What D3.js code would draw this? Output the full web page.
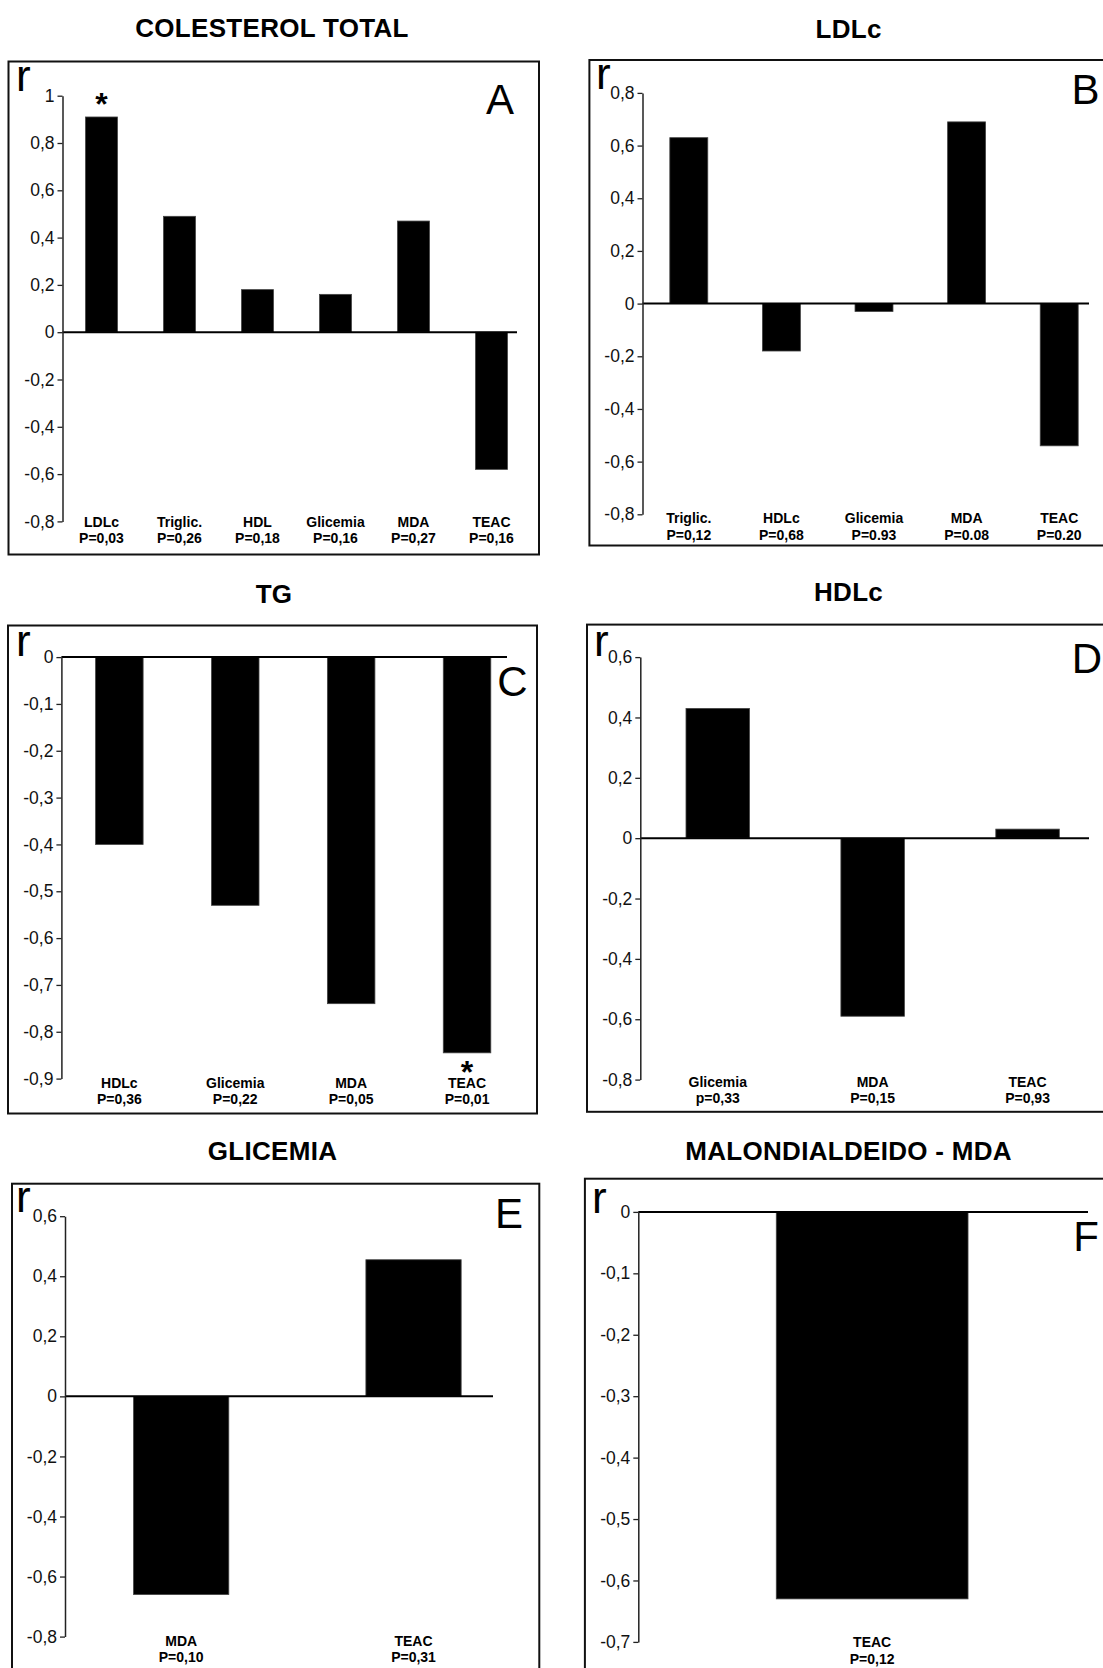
<!DOCTYPE html>
<html>
<head>
<meta charset="utf-8">
<script src="https://cdn.jsdelivr.net/npm/d3@7"></script>
<style>
  html, body { margin: 0; padding: 0; background: #fff; }
  svg { display: block; }
  text { font-family: "Liberation Sans", Arial, sans-serif; }
</style>
</head>
<body>
<svg id="chart" width="1103" height="1668"></svg>
<script>
// ---------- DATA ----------
const titles = ["COLESTEROL TOTAL", "LDLc", "TG", "HDLc", "GLICEMIA", "MALONDIALDEIDO - MDA"];
const letters = ["A", "B", "C", "D", "E", "F"];

const catsA = ["LDLc", "Triglic.", "HDL", "Glicemia", "MDA", "TEAC"];
const pA = ["P=0,03", "P=0,26", "P=0,18", "P=0,16", "P=0,27", "P=0,16"];
const valsA = [0.91, 0.49, 0.18, 0.16, 0.47, -0.58];
const ticksA = [1, 0.8, 0.6, 0.4, 0.2, 0, -0.2, -0.4, -0.6, -0.8];
const starA = ["LDLc"];

const catsB = ["Triglic.", "HDLc", "Glicemia", "MDA", "TEAC"];
const pB = ["P=0,12", "P=0,68", "P=0.93", "P=0.08", "P=0.20"];
const valsB = [0.63, -0.18, -0.03, 0.69, -0.54];
const ticksB = [0.8, 0.6, 0.4, 0.2, 0, -0.2, -0.4, -0.6, -0.8];
const starB = [];

const catsC = ["HDLc", "Glicemia", "MDA", "TEAC"];
const pC = ["P=0,36", "P=0,22", "P=0,05", "P=0,01"];
const valsC = [-0.40, -0.53, -0.74, -0.845];
const ticksC = [0, -0.1, -0.2, -0.3, -0.4, -0.5, -0.6, -0.7, -0.8, -0.9];
const starC = ["TEAC"];

const catsD = ["Glicemia", "MDA", "TEAC"];
const pD = ["p=0,33", "P=0,15", "P=0,93"];
const valsD = [0.43, -0.59, 0.03];
const ticksD = [0.6, 0.4, 0.2, 0, -0.2, -0.4, -0.6, -0.8];
const starD = [];

const catsE = ["MDA", "TEAC"];
const pE = ["P=0,10", "P=0,31"];
const valsE = [-0.66, 0.455];
const ticksE = [0.6, 0.4, 0.2, 0, -0.2, -0.4, -0.6, -0.8];
const starE = [];

const catsF = ["TEAC"];
const pF = ["P=0,12"];
const valsF = [-0.63];
const ticksF = [0, -0.1, -0.2, -0.3, -0.4, -0.5, -0.6, -0.7];
const starF = [];

// ---------- LAYOUT (positions only) ----------
const layout = [
  { frame: [8.5, 61.5, 539, 554.5], ax: 62.5, yTop: 95.7, yBot: 521.4, xEnd: 530.5, zeroEnd: 517,
    title: [272, 37], r: [16, 91], letter: [500, 114], lab1: 5.5, lab2: 21.5 },
  { frame: [589.4, 60, 1115, 545.5], ax: 642.5, yTop: 92.9, yBot: 514.3, xEnd: 1105.5, zeroEnd: 1089,
    title: [848.6, 37.5], r: [596, 89], letter: [1085.5, 103.6], lab1: 8.7, lab2: 26 },
  { frame: [8, 625.5, 537, 1113.5], ax: 61.4, yTop: 657.1, yBot: 1078.6, xEnd: 525, zeroEnd: 507,
    title: [274, 603], r: [16, 656], letter: [512.5, 695.7], lab1: 9.3, lab2: 25 },
  { frame: [587, 624.6, 1115, 1111.8], ax: 640.3, yTop: 657.1, yBot: 1079.6, xEnd: 1105, zeroEnd: 1089,
    title: [848.6, 601], r: [594, 655.7], letter: [1087, 672.5], lab1: 7.5, lab2: 23.5 },
  { frame: [12, 1183.7, 539.3, 1675], ax: 65, yTop: 1216.2, yBot: 1636.6, xEnd: 529.7, zeroEnd: 493,
    title: [272.5, 1160], r: [16, 1211.6], letter: [509, 1227.6], lab1: 9, lab2: 25.7 },
  { frame: [584.9, 1178.7, 1115, 1675], ax: 638.3, yTop: 1211.9, yBot: 1641.9, xEnd: 1106, zeroEnd: 1088,
    title: [848.6, 1160], r: [592, 1213.4], letter: [1086, 1251], lab1: 5.4, lab2: 22 }
];

const panels = [
  { cats: catsA, ps: pA, vals: valsA, ticks: ticksA, stars: starA, starPos: "above" },
  { cats: catsB, ps: pB, vals: valsB, ticks: ticksB, stars: starB, starPos: "above" },
  { cats: catsC, ps: pC, vals: valsC, ticks: ticksC, stars: starC, starPos: "below" },
  { cats: catsD, ps: pD, vals: valsD, ticks: ticksD, stars: starD, starPos: "above" },
  { cats: catsE, ps: pE, vals: valsE, ticks: ticksE, stars: starE, starPos: "above" },
  { cats: catsF, ps: pF, vals: valsF, ticks: ticksF, stars: starF, starPos: "above" }
];

const svg = d3.select("#chart");
svg.append("rect").attr("width", 1103).attr("height", 1668).attr("fill", "#fff");

const fmt = v => (Math.abs(v) < 1e-9 ? "0" : String(+v.toFixed(2)).replace(".", ","));

panels.forEach((p, i) => {
  const L = layout[i];
  const g = svg.append("g");

  // title
  g.append("text")
    .attr("x", L.title[0]).attr("y", L.title[1])
    .attr("text-anchor", "middle")
    .attr("font-weight", "bold").attr("font-size", 26)
    .attr("letter-spacing", 0.3)
    .attr("fill", "#000")
    .text(titles[i]);

  // frame
  const [fx0, fy0, fx1, fy1] = L.frame;
  g.append("rect")
    .attr("x", fx0).attr("y", fy0)
    .attr("width", fx1 - fx0).attr("height", fy1 - fy0)
    .attr("fill", "none").attr("stroke", "#111").attr("stroke-width", 2);

  const y = d3.scaleLinear()
    .domain([d3.min(p.ticks), d3.max(p.ticks)])
    .range([L.yBot, L.yTop]);

  const x = d3.scaleBand()
    .domain(p.cats)
    .range([L.ax, L.xEnd])
    .paddingInner(0.59)
    .paddingOuter(0.295);

  // bars
  const vals = p.cats.map((c, k) => ({ c, v: p.vals[k], pv: p.ps[k] }));
  g.selectAll("rect.bar").data(vals).enter().append("rect")
    .attr("class", "bar")
    .attr("x", d => x(d.c))
    .attr("width", x.bandwidth())
    .attr("y", d => y(Math.max(0, d.v)))
    .attr("height", d => Math.abs(y(d.v) - y(0)))
    .attr("fill", "#000")
    .attr("stroke", "#444").attr("stroke-width", 0.8);

  // zero line
  g.append("line")
    .attr("x1", L.ax).attr("x2", L.zeroEnd)
    .attr("y1", y(0)).attr("y2", y(0))
    .attr("stroke", "#000").attr("stroke-width", 2);

  // y axis
  const axis = d3.axisLeft(y)
    .tickValues(p.ticks)
    .tickFormat(fmt)
    .tickSize(5)
    .tickSizeOuter(0)
    .tickPadding(3);
  const ag = g.append("g").attr("transform", `translate(${L.ax},0)`).call(axis);
  ag.select(".domain").attr("stroke", "#222").attr("stroke-width", 1.5);
  ag.selectAll(".tick line").attr("stroke", "#222").attr("stroke-width", 1.3);
  ag.selectAll(".tick text")
    .attr("font-family", "'Liberation Sans', Arial, sans-serif")
    .attr("font-size", 17.5)
    .attr("fill", "#111");

  // category labels
  const lg = g.selectAll("g.lab").data(vals).enter().append("g").attr("class", "lab");
  lg.append("text")
    .attr("x", d => x(d.c) + x.bandwidth() / 2)
    .attr("y", L.yBot + L.lab1)
    .attr("text-anchor", "middle")
    .attr("font-weight", "bold").attr("font-size", 14)
    .attr("fill", "#000")
    .text(d => d.c);
  lg.append("text")
    .attr("x", d => x(d.c) + x.bandwidth() / 2)
    .attr("y", L.yBot + L.lab2)
    .attr("text-anchor", "middle")
    .attr("font-weight", "bold").attr("font-size", 14)
    .attr("fill", "#000")
    .text(d => d.pv);

  // significance stars
  vals.filter(d => p.stars.includes(d.c)).forEach(d => {
    const by = p.starPos === "above" ? y(d.v) - 2 : y(d.v) + 30;
    g.append("text")
      .attr("x", x(d.c) + x.bandwidth() / 2)
      .attr("y", by)
      .attr("text-anchor", "middle")
      .attr("font-weight", "bold").attr("font-size", 32)
      .attr("fill", "#000")
      .text("*");
  });

  // "r" label
  g.append("text")
    .attr("x", L.r[0]).attr("y", L.r[1])
    .attr("font-size", 44)
    .attr("fill", "#000")
    .text("r");

  // panel letter
  g.append("text")
    .attr("x", L.letter[0]).attr("y", L.letter[1])
    .attr("text-anchor", "middle")
    .attr("font-size", 42)
    .attr("fill", "#000")
    .text(letters[i]);
});
</script>
</body>
</html>
